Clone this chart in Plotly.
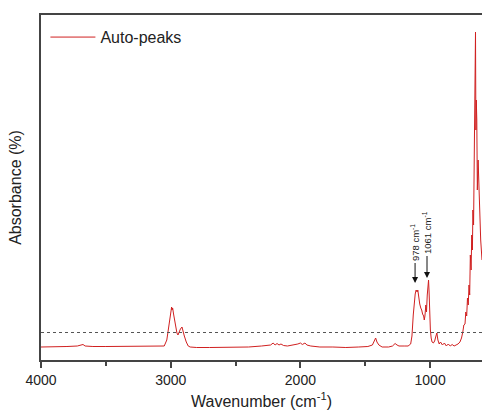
import plotly.graph_objects as go

# Wavenumber (cm^-1) and absorbance (arbitrary units)
wavenumber = [4000, 3900, 3800, 3720, 3690, 3676, 3660, 3600, 3500, 3300, 3200, 3100, 3050,
              3030, 3015, 3000, 2993, 2990, 2985, 2978, 2965, 2952, 2944, 2935, 2925, 2913,
              2905, 2895, 2880, 2865, 2850, 2800, 2700, 2600, 2500, 2400, 2300, 2230, 2210,
              2195, 2180, 2165, 2150, 2130, 2100, 2050, 2020, 2000, 1985, 1965, 1950, 1920,
              1850, 1750, 1650, 1550, 1480, 1445, 1430, 1420, 1410, 1395, 1370, 1320, 1290,
              1270, 1255, 1240, 1200, 1170, 1150, 1140, 1130, 1122, 1115, 1108, 1100, 1095,
              1088, 1080, 1072, 1065, 1058, 1050, 1045, 1040, 1033, 1028, 1022, 1016, 1012,
              1008, 1003, 998, 992, 985, 975, 965, 955, 948, 940, 930, 920, 905, 890, 875,
              860, 845, 830, 815, 800, 785, 770, 758, 748, 740, 731, 725, 718, 712, 706, 700,
              695, 690, 684, 679, 674, 670, 665, 660, 657, 653, 650, 647, 644, 640, 636, 630,
              620, 610, 600]
absorbance = [13, 13, 13.5, 14, 15, 15.5, 14, 13.5, 13.5, 13.5, 13.5, 13.5, 14,
              20, 35, 48, 53, 50, 52, 46, 35, 27, 25, 28, 31, 33,
              30, 24, 18, 14, 13, 12.5, 12.5, 12.5, 13, 13, 14, 15, 17,
              15, 16.5, 15, 16, 14.5, 14, 15, 16, 17, 15.5, 17, 15, 14,
              13, 13, 12.5, 13, 13.5, 15, 19, 22, 18, 15, 13, 13, 14,
              16.5, 15, 14, 14, 14, 16, 24, 45, 58, 66, 70, 68, 70,
              62, 56, 52, 50, 46, 44, 40, 44, 55, 48, 65, 78, 80,
              68, 45, 30, 22, 18, 17, 19, 24, 27, 20, 16, 18, 15, 17, 14,
              16, 14, 15.5, 14, 15, 16, 18, 22, 28, 35, 36, 48, 44, 62, 55, 75,
              65, 105, 90, 125, 110, 150, 135, 200, 180, 250, 328, 230, 260, 240, 170, 200,
              150, 120, 100]

threshold = 27.5
peak_labels = ["978 cm<sup>-1</sup>", "1061 cm<sup>-1</sup>"]
peak_x = [1116, 1024]
peak_y = [77, 82]

fig = go.Figure()
fig.add_trace(go.Scatter(x=wavenumber, y=absorbance, mode="lines", name="Auto-peaks",
                         line=dict(color="#d02020", width=1)))

fig.add_shape(type="line", xref="paper", x0=0, x1=1, yref="y", y0=threshold, y1=threshold,
              line=dict(color="#555555", width=1, dash="dot"))

for lab, px, py, ay in zip(peak_labels, peak_x, peak_y, [-40, -45]):
    fig.add_annotation(x=px, y=py, text=lab, textangle=-90, showarrow=True,
                       arrowhead=2, arrowsize=1.2, arrowwidth=1, arrowcolor="#111111",
                       ax=0, ay=ay, font=dict(family="Liberation Sans, Arial", size=9.5, color="#222222"))

fig.update_layout(
    width=482, height=412,
    margin=dict(l=41, r=0, t=15, b=52),
    paper_bgcolor="white", plot_bgcolor="white",
    font=dict(family="Liberation Sans, Arial", color="#222222"),
    showlegend=True,
    legend=dict(x=0.01, y=0.985, xanchor="left", yanchor="top", bgcolor="rgba(0,0,0,0)",
                font=dict(size=16), itemwidth=45),
    xaxis=dict(range=[4000, 600], tickvals=[4000, 3000, 2000, 1000],
               ticks="outside", ticklen=6, tickwidth=1.5, tickcolor="#444444",
               minor=dict(tickvals=[3500, 2500, 1500], ticks="outside", ticklen=4,
                          tickwidth=1.5, tickcolor="#444444"),
               showline=True, linecolor="#444444", linewidth=2, mirror=True,
               showgrid=False, zeroline=False, tickfont=dict(size=14),
               title=dict(text="Wavenumber (cm<sup>-1</sup>)", font=dict(size=16), standoff=9)),
    yaxis=dict(range=[0, 345], showticklabels=False, ticks="", showline=True,
               linecolor="#444444", linewidth=2, showgrid=False, zeroline=False,
               title=dict(text="Absorbance (%)", font=dict(size=16), standoff=13)),
)

fig.write_html("out.html")
